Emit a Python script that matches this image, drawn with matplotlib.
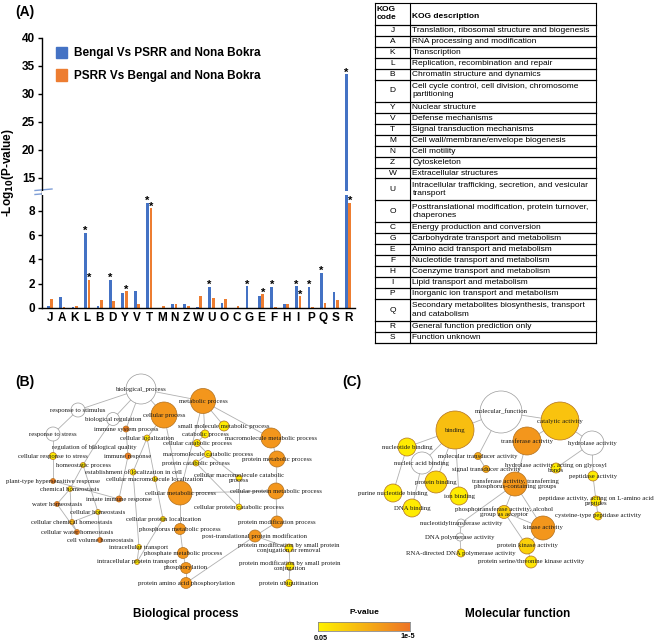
import numpy as np
import matplotlib
matplotlib.use('Agg')
import matplotlib.pyplot as plt
from matplotlib.colors import LinearSegmentedColormap, LogNorm
from matplotlib.patches import Circle, Patch, Rectangle

# ---------------- data: panel A ----------------
kog_codes = ['J', 'A', 'K', 'L', 'B', 'D', 'Y', 'V', 'T', 'M', 'N', 'Z', 'W',
             'U', 'O', 'C', 'G', 'E', 'F', 'H', 'I', 'P', 'Q', 'S', 'R']
bengal_vals = [0.15, 0.9, 0.05, 6.2, 0.15, 2.35, 1.2, 1.4, 8.7, 0.0, 0.3, 0.35, 0.05,
               1.75, 0.45, 0.0, 1.8, 0.95, 1.75, 0.35, 1.8, 1.75, 2.9, 1.35, 33.5]
psrr_vals = [0.75, 0.1, 0.2, 2.35, 0.65, 0.55, 1.4, 0.35, 8.25, 0.15, 0.3, 0.15, 1.0,
             0.85, 0.75, 0.15, 0.0, 1.15, 0.05, 0.3, 0.95, 0.05, 0.4, 0.7, 8.7]
bengal_sig = ['L', 'D', 'T', 'U', 'G', 'F', 'I', 'P', 'Q', 'R']
psrr_sig = ['L', 'Y', 'T', 'E', 'I', 'R']
series_names = ['Bengal Vs PSRR and Nona Bokra', 'PSRR Vs Bengal and Nona Bokra']
y_ticks = [0, 2, 4, 6, 8, 15, 20, 25, 30, 35, 40]

table_codes = ['J', 'A', 'K', 'L', 'B', 'D', 'Y', 'V', 'T', 'M', 'N', 'Z', 'W',
               'U', 'O', 'C', 'G', 'E', 'F', 'H', 'I', 'P', 'Q', 'R', 'S']
table_desc = [
    'Translation, ribosomal structure and biogenesis',
    'RNA processing and modification',
    'Transcription',
    'Replication, recombination and repair',
    'Chromatin structure and dynamics',
    'Cell cycle control, cell division, chromosome\npartitioning',
    'Nuclear structure',
    'Defense mechanisms',
    'Signal transduction mechanisms',
    'Cell wall/membrane/envelope biogenesis',
    'Cell motility',
    'Cytoskeleton',
    'Extracellular structures',
    'Intracellular trafficking, secretion, and vesicular\ntransport',
    'Posttranslational modification, protein turnover,\nchaperones',
    'Energy production and conversion',
    'Carbohydrate transport and metabolism',
    'Amino acid transport and metabolism',
    'Nucleotide transport and metabolism',
    'Coenzyme transport and metabolism',
    'Lipid transport and metabolism',
    'Inorganic ion transport and metabolism',
    'Secondary metabolites biosynthesis, transport\nand catabolism',
    'General function prediction only',
    'Function unknown',
]

# ---------------- data: panel B (GO biological process) ----------------
B_labels = [
    'biological_process', 'metabolic process', 'cellular process', 'response to stimulus',
    'biological regulation', 'response to stress', 'immune system process',
    'small molecule metabolic process', 'catabolic process', 'macromolecule metabolic process',
    'cellular localization', 'cellular catabolic process', 'regulation of biological quality',
    'cellular response to stress', 'immune response', 'macromolecule catabolic process',
    'protein metabolic process', 'homeostatic process', 'protein catabolic process',
    'establishment of localization in cell', 'cellular macromolecule catabolic\nprocess',
    'plant-type hypersensitive response', 'cellular macromolecule localization',
    'chemical homeostasis', 'cellular metabolic process', 'cellular protein metabolic process',
    'innate immune response', 'water homeostasis', 'cellular homeostasis',
    'cellular protein catabolic process', 'cellular protein localization',
    'cellular chemical homeostasis', 'protein modification process',
    'phosphorus metabolic process', 'cellular water homeostasis',
    'post-translational protein modification', 'cell volume homeostasis',
    'intracellular transport', 'protein modification by small protein\nconjugation or removal',
    'phosphate metabolic process', 'intracellular protein transport',
    'protein modification by small protein\nconjugation', 'phosphorylation',
    'protein amino acid phosphorylation', 'protein ubiquitination',
]
B_size = [15, 12.5, 13, 7, 6.5, 7, 3, 5, 4, 10, 3, 3.5, 1.8, 3.5, 3, 3.5, 8, 2.5, 3, 3, 3,
          2.5, 2.5, 2.5, 12, 8, 3, 2.5, 2.5, 3, 2.5, 2.5, 6, 5.5, 2.5, 6, 2.5, 2.5, 4,
          5.5, 2.5, 4, 5.5, 5.5, 3.5]
B_pval = [None, 1e-4, 1e-4, None, None, None, 2e-5, 0.03, 0.03, 1e-4, 0.03, 0.03, None,
          0.03, 2e-5, 0.03, 1e-4, 0.03, 0.03, 0.03, 0.03, 2e-5, 0.03, 0.03, 1e-4, 1e-4,
          2e-5, 2e-5, 0.03, 0.03, 0.03, 1e-3, 1e-4, 1e-4, 2e-5, 1e-4, 2e-5, 0.03, 0.03,
          1e-4, 0.03, 0.03, 1e-4, 1e-4, 0.03]
B_edges = [(0, 3), (0, 4), (0, 2), (0, 1), (0, 6), (2, 10), (3, 5), (5, 13), (13, 21),
           (4, 12), (12, 17), (17, 23), (17, 28), (23, 27), (23, 31), (28, 31), (31, 34),
           (27, 34), (28, 36), (6, 14), (14, 26), (26, 21), (10, 19), (10, 22), (19, 37),
           (37, 40), (22, 30), (30, 40), (2, 24), (1, 7), (1, 8), (1, 9), (1, 24), (8, 11),
           (11, 15), (15, 18), (15, 20), (20, 29), (18, 29), (9, 16), (16, 25), (24, 25),
           (25, 32), (32, 35), (35, 43), (35, 38), (38, 41), (41, 44), (24, 33), (33, 39),
           (39, 42), (42, 43)]
# layout (pixel positions of the drawn network)
B_layout = [
    (141, 389), (203, 401), (164, 415), (78, 410), (113, 419), (53, 434), (126, 429),
    (224, 426), (205, 434), (271, 438), (147, 438), (197, 443), (94, 447), (53, 456),
    (128, 456), (208, 454), (277, 459), (83, 465), (196, 463), (133, 472), (239, 478),
    (53, 481), (155, 479), (70, 489), (180, 493), (276, 491), (119, 499), (57, 504),
    (98, 512), (239, 507), (163, 519), (72, 522), (277, 522), (180, 529), (77, 532),
    (255, 536), (100, 540), (139, 547), (289, 548), (183, 553), (137, 562), (290, 566),
    (186, 568), (186, 583), (289, 583)]

# ---------------- data: panel C (GO molecular function) ----------------
C_labels = [
    'molecular_function', 'catalytic activity', 'binding', 'transferase activity',
    'hydrolase activity', 'nucleotide binding', 'molecular transducer activity',
    'nucleic acid binding', 'signal transducer activity',
    'hydrolase activity, acting on glycosyl\nbonds', 'peptidase activity', 'protein binding',
    'transferase activity, transferring\nphosphorus-containing groups', 'ion binding',
    'purine nucleotide binding', 'peptidase activity, acting on L-amino acid\npeptides',
    'DNA binding', 'phosphotransferase activity, alcohol\ngroup as acceptor',
    'cysteine-type peptidase activity', 'nucleotidyltransferase activity', 'kinase activity',
    'DNA polymerase activity', 'protein kinase activity',
    'RNA-directed DNA polymerase activity', 'protein serine/threonine kinase activity',
]
C_size = [21, 19, 19, 14, 12, 9, 3.5, 11, 3.5, 5, 5, 11, 12, 9, 9, 5, 9, 6.5, 4, 4, 12, 4,
          8, 4, 6]
C_pval = [None, 2e-3, 1.5e-3, 1e-4, None, 0.03, 5e-4, None, 5e-4, 0.03, 0.03, 8e-3, 1e-4,
          0.03, 0.03, 0.03, 0.03, 5e-3, 0.03, None, 1e-4, None, 5e-3, 0.03, 0.02]
C_edges = [(0, 2), (0, 1), (0, 6), (1, 3), (1, 4), (2, 5), (2, 7), (2, 11), (2, 13),
           (5, 14), (7, 16), (6, 8), (4, 9), (4, 10), (10, 15), (15, 18), (3, 12),
           (12, 17), (12, 20), (12, 19), (17, 20), (17, 22), (20, 22), (22, 24), (19, 21),
           (21, 23)]
C_layout = [
    (501, 412), (560, 421), (455, 430), (527, 441), (592, 443), (407, 447), (478, 456),
    (422, 463), (486, 469), (556, 468), (593, 476), (436, 482), (515, 484), (459, 496),
    (393, 493), (596, 501), (412, 508), (504, 512), (598, 516), (461, 523), (543, 528),
    (460, 537), (527, 546), (461, 553), (531, 562)]

# ---------------- figure ----------------
SANS = ['Liberation Sans', 'DejaVu Sans']
SERIF = ['Liberation Serif', 'DejaVu Serif']
BLUE = '#4472C4'
ORANGE = '#ED7D31'

fig = plt.figure(figsize=(6.6, 6.44), dpi=100)
W, H = 660.0, 644.0

ov = fig.add_axes([0, 0, 1, 1], zorder=0)
ov.set_xlim(0, W)
ov.set_ylim(H, 0)
ov.axis('off')

# ---- panel A: broken-axis bar chart ----
knots_v = [0, 9.5, 12.5, 100]
knots_t = [0, 115.2, 116, 116 + 87.5 * 5.6]


def fwd(v):
    return np.interp(v, knots_v, knots_t)


def inv(t):
    return np.interp(t, knots_t, knots_v)


ax = fig.add_axes([42 / W, (H - 308) / H, 313 / W, 270 / H], zorder=2)
ax.patch.set_alpha(0)
ax.set_yscale('function', functions=(fwd, inv))
ax.set_ylim(0, 40)
x = np.arange(len(kog_codes))
ax.set_xlim(-0.64, len(kog_codes) - 1 + 0.56)
bw, off = 0.22, 0.14
ax.bar(x - off, bengal_vals, bw, color=BLUE, zorder=2)
ax.bar(x + off, psrr_vals, bw, color=ORANGE, zorder=2)
for i, c in enumerate(kog_codes):
    if c in bengal_sig:
        ax.annotate('*', (i - off, bengal_vals[i]), xytext=(0, -2.5), textcoords='offset points',
                    ha='center', va='bottom', fontsize=8, family=SANS, fontweight='bold')
    if c in psrr_sig:
        ax.annotate('*', (i + off, psrr_vals[i]), xytext=(0, -2.5), textcoords='offset points',
                    ha='center', va='bottom', fontsize=8, family=SANS, fontweight='bold')
# gap in bars crossing the axis break
ax.add_patch(Rectangle((-0.64, 9.35), len(kog_codes) + 0.5, 12.65 - 9.35, facecolor='white',
                       edgecolor='none', zorder=3))
ax.set_yticks(y_ticks)
ax.set_yticklabels([str(t) for t in y_ticks])
ax.set_xticks(x)
ax.set_xticklabels(kog_codes)
ax.tick_params(axis='x', length=0, pad=3)
ax.tick_params(axis='y', length=3, width=1, direction='out', pad=2)
for lab in ax.get_xticklabels() + ax.get_yticklabels():
    lab.set_fontfamily(SANS)
    lab.set_fontweight('bold')
    lab.set_fontsize(8.5)
for s in ['top', 'right']:
    ax.spines[s].set_visible(False)
for s in ['left', 'bottom']:
    ax.spines[s].set_linewidth(1.0)
ax.set_ylabel('-Log$_{\\mathbf{10}}$(P-value)', fontsize=8.5, fontweight='bold', family=SANS,
              labelpad=4)
handles = [Patch(facecolor=BLUE, edgecolor=BLUE), Patch(facecolor=ORANGE, edgecolor=ORANGE)]
ax.legend(handles, series_names, loc='upper left', bbox_to_anchor=(0.03, 0.985), frameon=False,
          prop={'family': SANS, 'weight': 'bold', 'size': 8.5}, handlelength=0.9,
          handleheight=1.1, handletextpad=0.6, labelspacing=0.85, borderaxespad=0)
# break marks
ov.plot([35, 52], [190.5, 189], color='#7F9ED6', lw=1.0, zorder=5)
ov.plot([35, 52], [194.5, 193], color='#7F9ED6', lw=1.0, zorder=5)
ov.add_patch(Rectangle((40, 190.5), 5, 3, facecolor='white', edgecolor='none', zorder=4))

ov.text(25, 12, '(A)', fontsize=10, fontweight='bold', family=SANS, ha='center', va='center')
ov.text(25, 382, '(B)', fontsize=10, fontweight='bold', family=SANS, ha='center', va='center')
ov.text(352, 382, '(C)', fontsize=10, fontweight='bold', family=SANS, ha='center', va='center')

# ---- KOG table ----
tx0, tx1, tx2 = 375, 410, 596
ty0 = 3
unit = (343 - 3) / 31.0
TFS = 6.0
rows = [('KOG\ncode', 'KOG description', 2, True)]
for c, d in zip(table_codes, table_desc):
    rows.append((c, d, 2 if '\n' in d else 1, False))
y = ty0
ov.plot([tx0, tx2], [y, y], color='black', lw=0.8)
for code, desc, n, hdr in rows:
    h = n * unit
    yc = y + h / 2
    if hdr:
        ov.text(tx0 + 1.5, yc, code, ha='left', va='center', fontsize=TFS, fontweight='bold',
                family=SANS, linespacing=1.2)
        ov.text(tx1 + 1.5, yc + 3, desc, ha='left', va='center', fontsize=TFS, fontweight='bold',
                family=SANS)
    else:
        ov.text((tx0 + tx1) / 2, yc, code, ha='center', va='center', fontsize=TFS, family=SANS)
        ov.text(tx1 + 2.5, yc, desc, ha='left', va='center', fontsize=TFS, family=SANS,
                linespacing=1.3)
    y += h
    ov.plot([tx0, tx2], [y, y], color='black', lw=0.9)
ov.plot([tx0, tx0], [ty0, y], color='black', lw=0.8)
ov.plot([tx1, tx1], [ty0, y], color='black', lw=0.8)
ov.plot([tx2, tx2], [ty0, y], color='black', lw=0.8)

# ---- networks ----
cmap = LinearSegmentedColormap.from_list('pv', ['#EE7426', '#FFF200'])
norm = LogNorm(vmin=1e-5, vmax=0.05)


def draw_net(labels, sizes, pvals, edges, layout):
    for a, b in edges:
        (x1, y1), (x2, y2) = layout[a], layout[b]
        ov.plot([x1, x2], [y1, y2], color='#B0B0B0', lw=0.6, zorder=1)
    for lab, r, p, (cx, cy) in zip(labels, sizes, pvals, layout):
        fc = 'white' if p is None else cmap(norm(p))
        ec = '#9A9A9A' if p is None else '#B07020'
        ov.add_patch(Circle((cx, cy), r, facecolor=fc, edgecolor=ec, lw=0.5, zorder=2))
        ov.text(cx, cy, lab, ha='center', va='center', fontsize=4.9, family=SERIF,
                color='#1A1A1A', zorder=3, linespacing=1.05)


draw_net(B_labels, B_size, B_pval, B_edges, B_layout)
draw_net(C_labels, C_size, C_pval, C_edges, C_layout)

ov.text(186, 614, 'Biological process', ha='center', va='center', fontsize=8.5,
        fontweight='bold', family=SANS)
ov.text(518, 614, 'Molecular function', ha='center', va='center', fontsize=8.5,
        fontweight='bold', family=SANS)

# ---- colour bar ----
cax = fig.add_axes([318 / W, (H - 631) / H, 92 / W, 9 / H], zorder=3)
pv = np.logspace(np.log10(0.05), -5, 256)
cax.imshow(cmap(norm(pv))[None, :, :], aspect='auto', extent=(0, 1, 0, 1))
cax.set_xticks([])
cax.set_yticks([])
for s in cax.spines.values():
    s.set_color('#888888')
    s.set_linewidth(0.6)
ov.text(364, 613, 'P-value', ha='center', va='center', fontsize=6, fontweight='bold', family=SANS)
ov.text(321, 639, '0.05', ha='center', va='center', fontsize=5.2, fontweight='bold', family=SANS)
ov.text(408, 637, '1e-5', ha='center', va='center', fontsize=5.2, fontweight='bold', family=SANS)

fig.savefig('out.png', dpi=100)
